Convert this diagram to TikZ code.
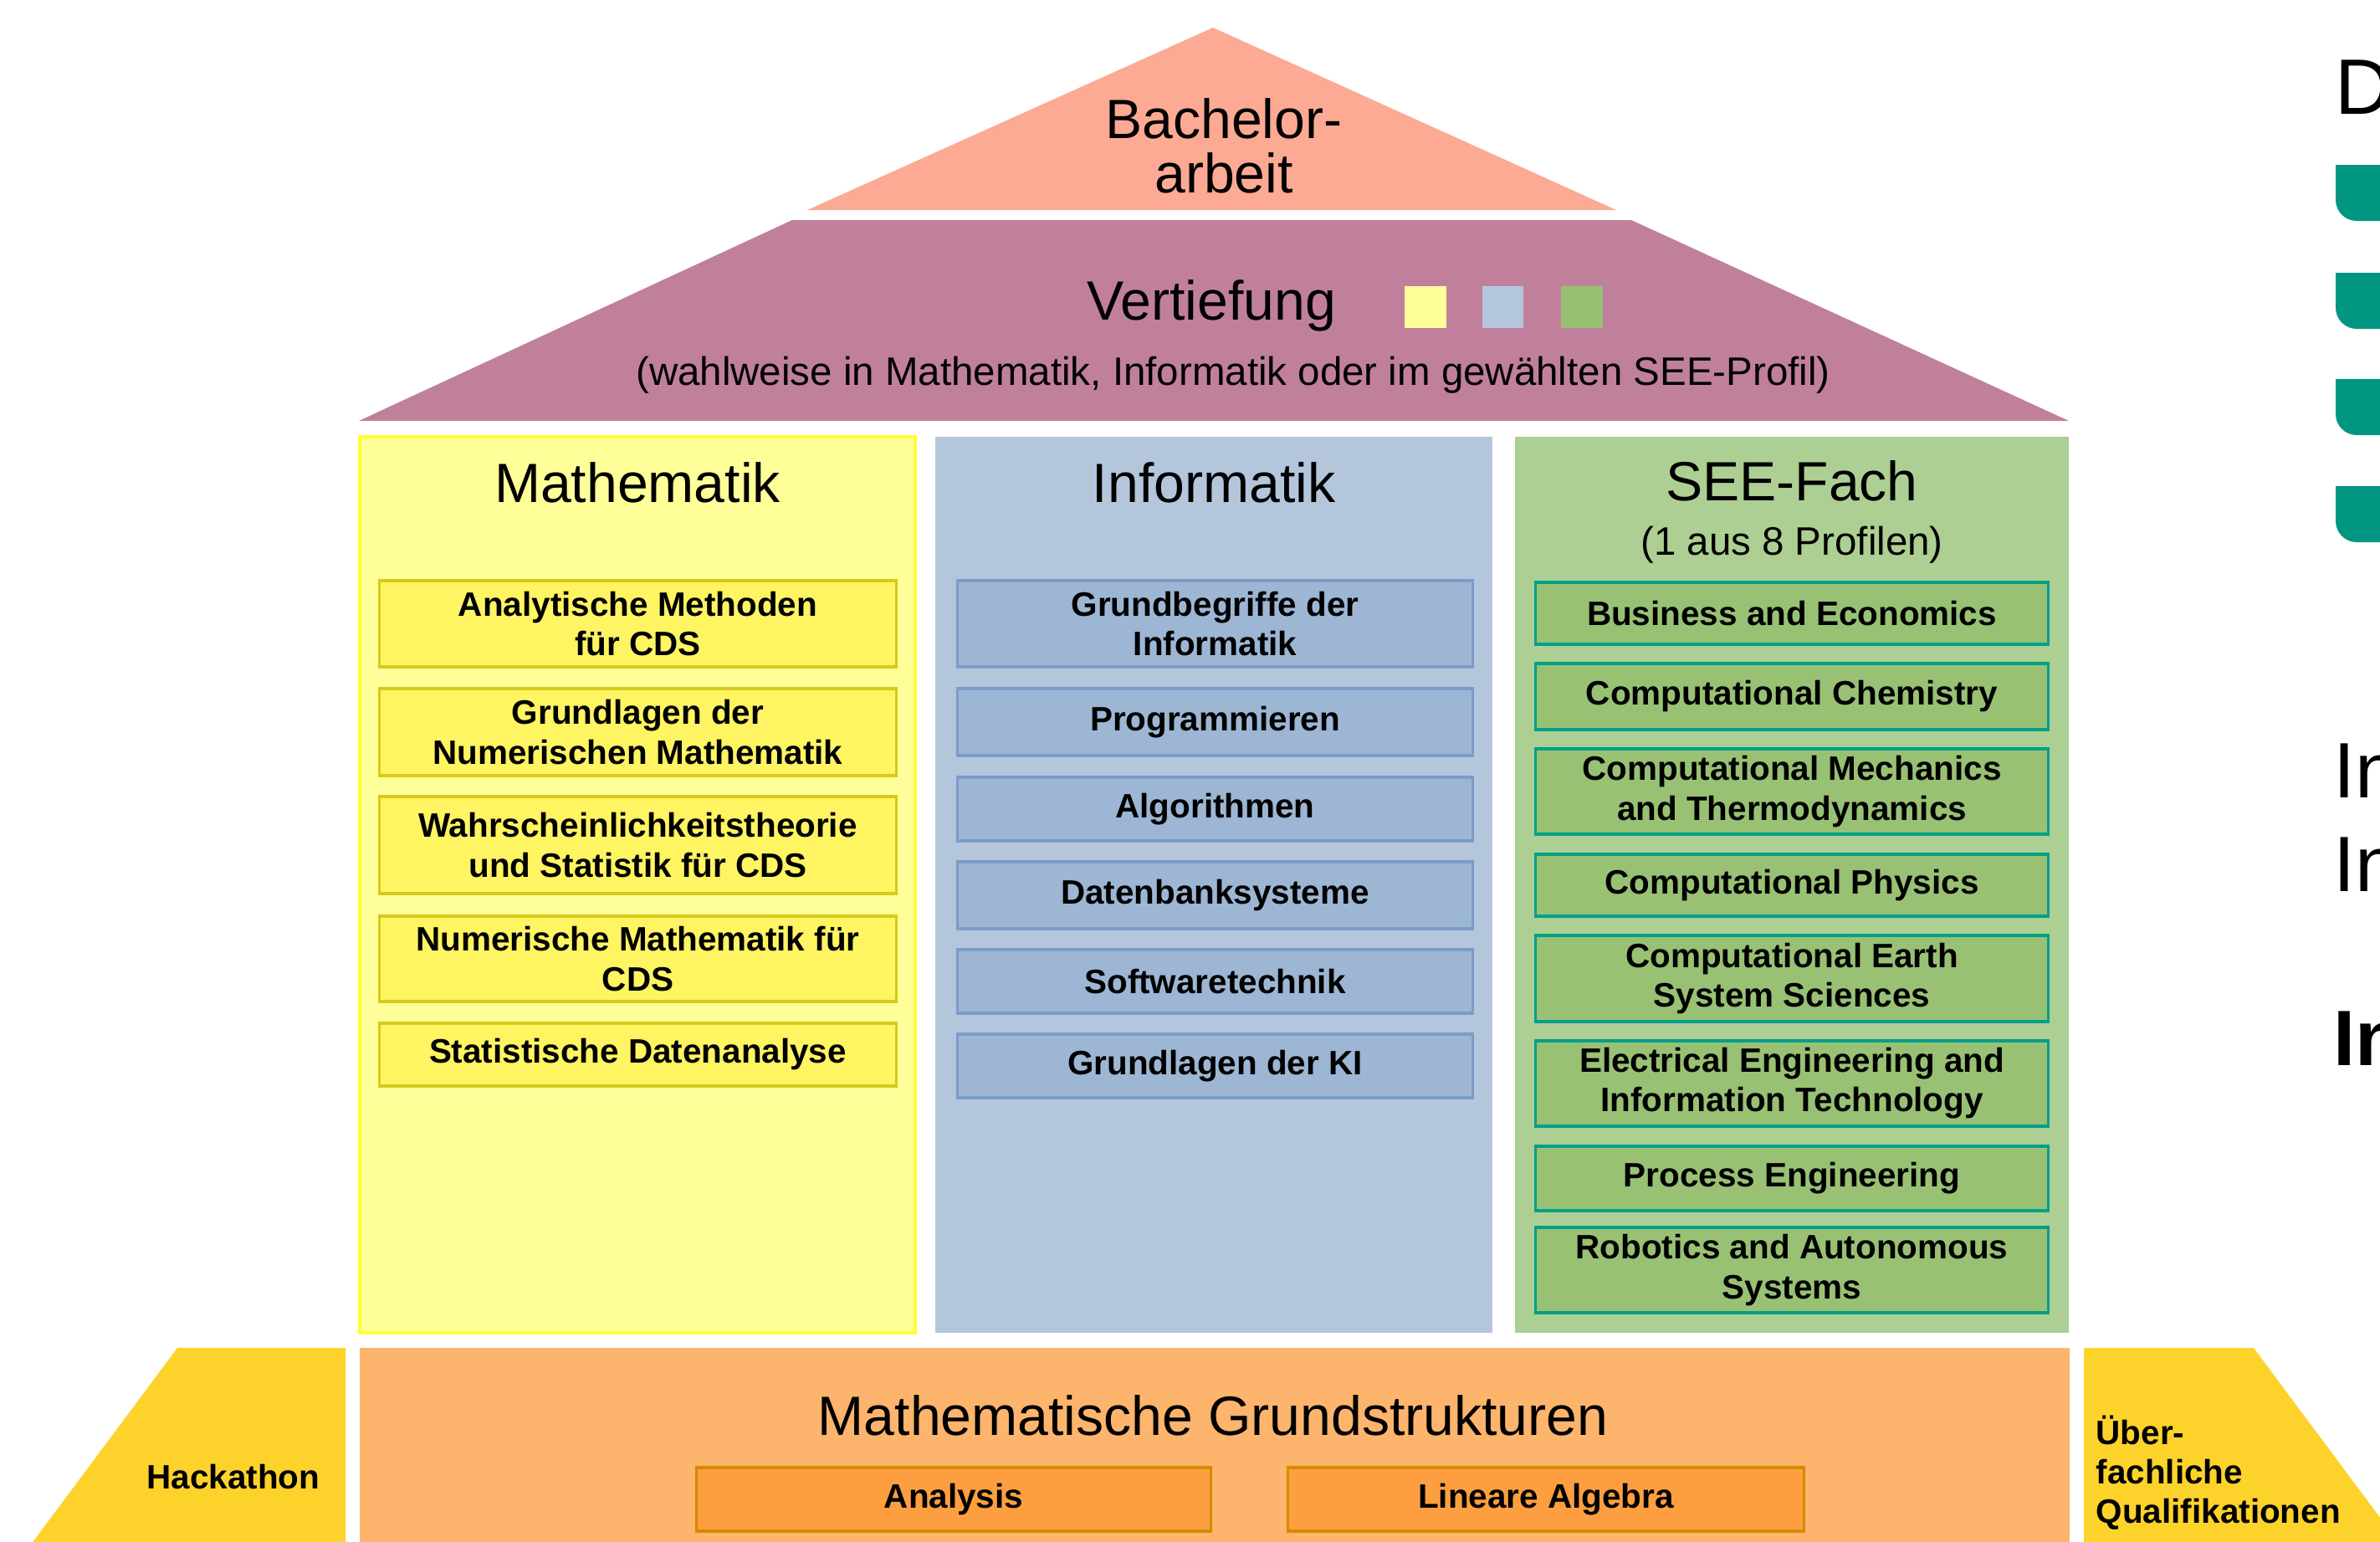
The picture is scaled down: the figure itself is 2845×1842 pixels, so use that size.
\documentclass[tikz,border=0pt]{standalone}
\usepackage{fontspec}
\setmainfont{Liberation Sans}
\usetikzlibrary{calc}
\definecolor{roofpink}{HTML}{FCAA93}
\definecolor{roofmauve}{HTML}{C0809C}
\definecolor{mathcol}{HTML}{FFFF99}
\definecolor{mathedge}{HTML}{FFFF33}
\definecolor{mathfill}{HTML}{FFF462}
\definecolor{mathline}{HTML}{D6CA1A}
\definecolor{infocol}{HTML}{B4C6DC}
\definecolor{infofill}{HTML}{9DB6D4}
\definecolor{infoline}{HTML}{7B9CC9}
\definecolor{seecol}{HTML}{AECF94}
\definecolor{seesquare}{HTML}{97C170}
\definecolor{seefill}{HTML}{99C174}
\definecolor{seeline}{HTML}{00A08A}
\definecolor{basecol}{HTML}{FDB46C}
\definecolor{basefill}{HTML}{FD9F40}
\definecolor{baseline}{HTML}{D48B00}
\definecolor{sidecol}{HTML}{FDD32B}
\definecolor{kitgreen}{HTML}{009682}
\newcommand{\headfont}{\fontsize{18.8pt}{18.5pt}\selectfont}
\newcommand{\notefont}{\fontsize{13.5pt}{15pt}\selectfont}
\newcommand{\modfont}{\fontsize{11.5pt}{13.4pt}\selectfont\bfseries}
\newcommand{\slidefont}{\fontsize{26.7pt}{32pt}\selectfont}

\begin{document}
\begin{tikzpicture}[x=0.01cm, y=-0.01cm,
  module/.style={line width=0.9pt, font=\modfont, align=center, inner sep=0pt},
  mathmod/.style={module, draw=mathline, fill=mathfill, minimum width=6.17cm},
  infomod/.style={module, draw=infoline, fill=infofill, minimum width=6.15cm},
  seemod/.style={module, draw=seeline, fill=seefill, minimum width=6.12cm},
  basemod/.style={module, draw=baseline, fill=basefill, minimum height=0.76cm},
  heading/.style={font=\headfont, inner sep=0pt, anchor=base}]

\path[use as bounding box, clip] (0,0) rectangle (2845,1842);

% ROOF
\fill[roofpink] (1450,33) -- (1932,251) -- (965,251) -- cycle;
\node[font=\headfont, align=center, inner sep=0pt] (thesis) at (1463,174) {Bachelor-\\arbeit};
\fill[roofmauve] (947,263) -- (1950,263) -- (2473,503) -- (429,503) -- cycle;
\node[heading] (deep) at (1448,382) {Vertiefung};
\fill[mathcol] (1679,342) rectangle (1729,392);
\fill[infocol] (1772,342) rectangle (1821,392);
\fill[seesquare] (1866,342) rectangle (1916,392);
\node[font=\notefont, inner sep=0pt, anchor=base] (deepnote) at (1474,460)
  {(wahlweise in Mathematik, Informatik oder im gewählten SEE-Profil)};

% MATHEMATIK
\filldraw[fill=mathcol, draw=mathedge, line width=0.9pt] (430,522) rectangle (1094,1593);
\node[heading] (math) at (762,600) {Mathematik};
\node[mathmod, minimum height=1.03cm] (m1) at (762.5,745.5) {Analytische Methoden\\für CDS};
\node[mathmod, minimum height=1.04cm] (m2) at (762.5,875) {Grundlagen der\\Numerischen Mathematik};
\node[mathmod, minimum height=1.16cm] (m3) at (762.5,1010) {Wahrscheinlichkeitstheorie\\und Statistik für CDS};
\node[mathmod, minimum height=1.02cm] (m4) at (762.5,1146) {Numerische Mathematik für\\CDS};
\node[mathmod, minimum height=0.75cm] (m5) at (762.5,1260.5) {Statistische Datenanalyse};

% INFORMATIK
\fill[infocol] (1118,522) rectangle (1784,1593);
\node[heading] (info) at (1451,600) {Informatik};
\node[infomod, minimum height=1.03cm] (i1) at (1452.5,745.5) {Grundbegriffe der\\Informatik};
\node[infomod, minimum height=0.80cm] (i2) at (1452.5,863) {Programmieren};
\node[infomod, minimum height=0.76cm] (i3) at (1452.5,967) {Algorithmen};
\node[infomod, minimum height=0.80cm] (i4) at (1452.5,1070) {Datenbanksysteme};
\node[infomod, minimum height=0.76cm] (i5) at (1452.5,1173) {Softwaretechnik};
\node[infomod, minimum height=0.76cm] (i6) at (1452.5,1274) {Grundlagen der KI};

% SEE-FACH
\fill[seecol] (1811,522) rectangle (2473,1593);
\node[heading] (see) at (2142,598) {SEE-Fach};
\node[font=\notefont, inner sep=0pt, anchor=base] (seenote) at (2142,663) {(1 aus 8 Profilen)};
\node[seemod, minimum height=0.74cm] (s1) at (2142,733) {Business and Economics};
\node[seemod, minimum height=0.79cm] (s2) at (2142,832.5) {Computational Chemistry};
\node[seemod, minimum height=1.02cm] (s3) at (2142,946) {Computational Mechanics\\and Thermodynamics};
\node[seemod, minimum height=0.74cm] (s4) at (2142,1058) {Computational Physics};
\node[seemod, minimum height=1.03cm] (s5) at (2142,1169.5) {Computational Earth\\System Sciences};
\node[seemod, minimum height=1.02cm] (s6) at (2142,1295) {Electrical Engineering and\\Information Technology};
\node[seemod, minimum height=0.77cm] (s7) at (2142,1408.5) {Process Engineering};
\node[seemod, minimum height=1.02cm] (s8) at (2142,1518) {Robotics and Autonomous\\Systems};

% FOUNDATION
\fill[basecol] (430,1611) rectangle (2474,1850);
\node[heading] (base) at (1450,1715) {Mathematische Grundstrukturen};
\node[basemod, minimum width=6.14cm] (ana) at (1140,1792) {Analysis};
\node[basemod, minimum width=6.16cm] (linalg) at (1848,1792) {Lineare Algebra};
\fill[sidecol] (212,1611) -- (413,1611) -- (413,1850) -- (34,1850) -- cycle;
\node[font=\modfont, inner sep=0pt] (hack) at (279,1765) {Hackathon};
\fill[sidecol] (2491,1611) -- (2694,1611) -- (2872,1850) -- (2491,1850) -- cycle;
\node[font=\modfont, align=left, inner sep=0pt, anchor=west] (soft) at (2505,1760)
  {Über-\\fachliche\\Qualifikationen};

% SLIDE TEXT AT THE RIGHT EDGE
\node[font=\slidefont, inner sep=0pt, anchor=base west] (sD) at (2791,136) {D};
\foreach \t in {197,326,453,581} {
  \fill[kitgreen, rounded corners=0.25cm] (2792,\t) rectangle (2880,\t+67);
  \fill[kitgreen] (2792,\t) rectangle (2836,\t+33);
  \fill[kitgreen] (2836,\t+33) rectangle (2880,\t+67);
}
\node[font=\slidefont, inner sep=0pt, anchor=base west] (sI1) at (2789,953) {In};
\node[font=\slidefont, inner sep=0pt, anchor=base west] (sI2) at (2789,1065) {In};
\node[font=\slidefont\bfseries, inner sep=0pt, anchor=base west] (sI3) at (2789,1273) {In};

\end{tikzpicture}
\end{document}
